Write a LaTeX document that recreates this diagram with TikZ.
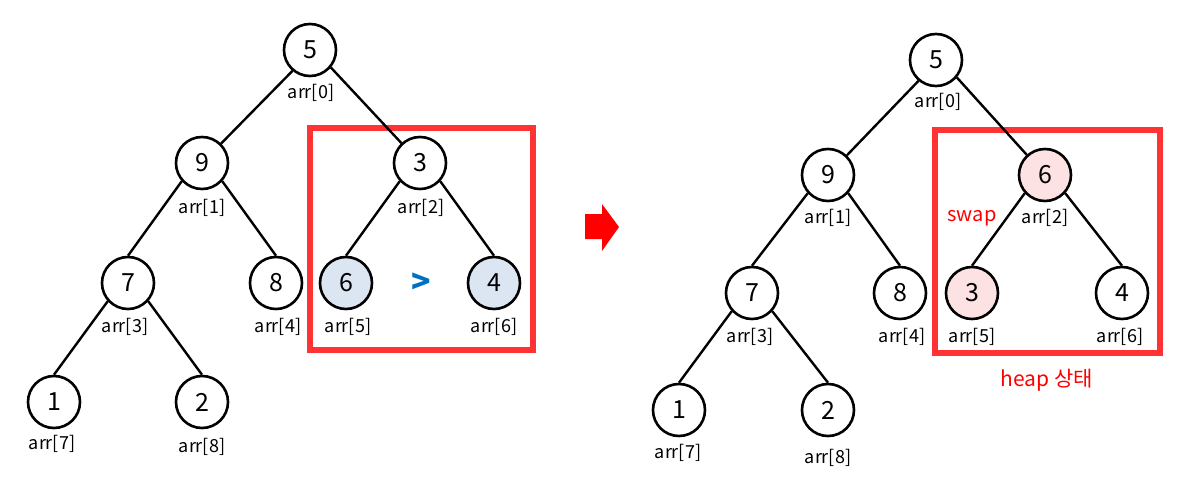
\documentclass[tikz,border=0pt]{standalone}
\usepackage{fontspec}
\setmainfont{Noto Sans CJK KR}
\usetikzlibrary{positioning}
\definecolor{framered}{HTML}{FF3333}
\definecolor{cmpblue}{HTML}{DCE6F2}
\definecolor{swappink}{HTML}{FCE2E2}
\definecolor{gtblue}{HTML}{0070C0}
\tikzstyle{key} = [circle, draw=black, line width=1.3pt, minimum size=26pt, inner sep=0pt, fill=white, font=\fontsize{12.5}{14}\selectfont]
\tikzstyle{cmp} = [key, fill=cmpblue]
\tikzstyle{swp} = [key, fill=swappink]
\tikzstyle{idx} = [inner sep=0pt, font=\fontsize{9}{10}\selectfont]
\tikzstyle{edge} = [line width=1.2pt]
\tikzstyle{frame} = [draw=framered, line width=2.6pt]

\begin{document}
\begin{tikzpicture}[x=0.5pt, y=-0.5pt]
\useasboundingbox (0,0) rectangle (1180,482);
% before: compare children of arr[2]
\node(a5)[key] at (310,50){5};
\node(a9)[key] at (202,163){9};
\node(a3)[key] at (420,163){3};
\node(a7)[key] at (128,283){7};
\node(a8)[key] at (276,283){8};
\node(a6)[cmp] at (346,283){6};
\node(a4)[cmp] at (494,283){4};
\node(a1)[key] at (54,402){1};
\node(a2)[key] at (202,402){2};
\node(ai0)[idx] at (311,93){arr[0]};
\node(ai1)[idx] at (202,208){arr[1]};
\node(ai2)[idx] at (421,208){arr[2]};
\node(ai3)[idx] at (125,327){arr[3]};
\node(ai4)[idx] at (278,327){arr[4]};
\node(ai5)[idx] at (348,327){arr[5]};
\node(ai6)[idx] at (494,327){arr[6]};
\node(ai7)[idx] at (52,444){arr[7]};
\node(ai8)[idx] at (202,447){arr[8]};
\node(gt)[text=gtblue, font=\fontsize{16}{16}\bfseries] at (421,283){>};
\draw[frame] (310,128) rectangle (533,350);
\draw[edge] (a5.-130) -- (a9);
\draw[edge] (a5.-40) -- (a3);
\draw[edge] (a9.-138) -- (a7.north);
\draw[edge] (a9.-42) -- (a8.north);
\draw[edge] (a3.-138) -- (a6.north);
\draw[edge] (a3.-42) -- (a4.north);
\draw[edge] (a7.-138) -- (a1.north);
\draw[edge] (a7.-42) -- (a2.north);
% arrow between the two trees
\fill[red] (585,214) -- (602,214) -- (602,204) -- (619,227) -- (602,251) -- (602,239) -- (585,239) -- cycle;
% after: swap done
\node(b5)[key] at (936,60){5};
\node(b9)[key] at (828,175){9};
\node(b6)[swp] at (1045,175){6};
\node(b7)[key] at (752,293){7};
\node(b8)[key] at (900,293){8};
\node(b3)[swp] at (972,293){3};
\node(b4)[key] at (1122,293){4};
\node(b1)[key] at (679,410){1};
\node(b2)[key] at (828,410){2};
\node(bi0)[idx] at (938,102){arr[0]};
\node(bi1)[idx] at (828,218){arr[1]};
\node(bi2)[idx] at (1045,218){arr[2]};
\node(bi3)[idx] at (750,337){arr[3]};
\node(bi4)[idx] at (902,337){arr[4]};
\node(bi5)[idx] at (972,337){arr[5]};
\node(bi6)[idx] at (1120,337){arr[6]};
\node(bi7)[idx] at (678,453){arr[7]};
\node(bi8)[idx] at (828,458){arr[8]};
\node(swap)[text=red, font=\fontsize{10}{12}\selectfont] at (972,218){swap};
\node(heap)[text=red, font=\fontsize{10.5}{12}\selectfont] at (1047,380){heap 상태};
\draw[frame] (935,130) rectangle (1160,353);
\draw[edge] (b5.-130) -- (b9);
\draw[edge] (b5.-40) -- (b6);
\draw[edge] (b9.-138) -- (b7.north);
\draw[edge] (b9.-42) -- (b8.north);
\draw[edge] (b6.-138) -- (b3.north);
\draw[edge] (b6.-42) -- (b4.north);
\draw[edge] (b7.-138) -- (b1.north);
\draw[edge] (b7.-42) -- (b2.north);
\end{tikzpicture}
\end{document}
